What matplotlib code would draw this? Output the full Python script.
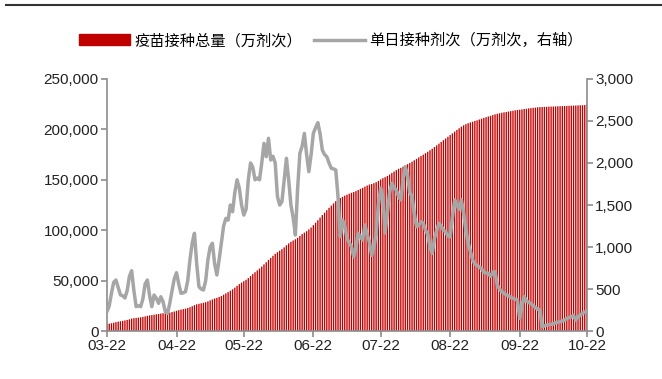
import numpy as np
import pandas as pd
import matplotlib
matplotlib.use('Agg')
import matplotlib.pyplot as plt
import matplotlib.dates as mdates
from matplotlib.lines import Line2D
from matplotlib.ticker import FuncFormatter

plt.rcParams['font.family'] = ['Liberation Sans', 'DejaVu Sans']

# daily dates, 2021-03-22 .. 2021-10-22
dates = pd.date_range('2021-03-22', '2021-10-22', freq='D')

# cumulative doses (万剂次), left axis
total_doses = [
    7000, 7300, 7700, 8200, 8800, 9300, 9700, 10100, 10500, 11000,
    11600, 12300, 12700, 13000, 13300, 13600, 14000, 14500, 15100, 15500,
    15800, 16200, 16600, 16900, 17300, 17600, 17800, 18000, 18300, 18800,
    19400, 20100, 20700, 21200, 21700, 22200, 22800, 23600, 24600, 25700,
    26500, 27000, 27500, 28000, 28600, 29400, 30400, 31400, 32200, 32900,
    33700, 34700, 36000, 37300, 38600, 40000, 41400, 43000, 44800, 46500,
    48000, 49400, 50800, 52500, 54500, 56500, 58300, 60100, 61900, 63900,
    66100, 68200, 70500, 72500, 74600, 76600, 78200, 79700, 81200, 83000,
    85100, 86900, 88400, 89800, 91000, 92500, 94300, 96100, 97600, 99000,
    100800, 102700, 105000, 107400, 109900, 112500, 115000, 117400, 119800, 122200,
    124400, 126600, 128800, 130700, 131900, 133100, 134200, 135200, 136200, 137100,
    137900, 138800, 139900, 141000, 142000, 143200, 144300, 145300, 145800, 146600,
    147600, 148900, 150300, 151600, 152600, 153800, 155200, 156700, 158200, 159600,
    160900, 161800, 163000, 164300, 165500, 166600, 168000, 169400, 170800, 172200,
    173600, 175000, 176400, 177800, 179300, 180900, 182500, 184200, 185900, 187600,
    189300, 191000, 192700, 194400, 196100, 197800, 199500, 201100, 202700, 204100,
    205200, 206100, 206900, 207600, 208300, 209000, 209800, 210600, 211400, 212100,
    212800, 213500, 214200, 214900, 215500, 216000, 216500, 216900, 217300, 217700,
    218100, 218500, 218900, 219300, 219500, 219800, 220200, 220500, 220800, 221100,
    221400, 221600, 221900, 222100, 222200, 222300, 222400, 222500, 222600, 222700,
    222800, 222900, 223000, 223100, 223200, 223300, 223400, 223500, 223600, 223700,
    223800, 223900, 224000, 224100, 224300,
]

# daily doses (万剂次), right axis
daily_doses = [
    230, 300, 450, 580, 607, 520, 430, 420, 393, 480,
    650, 718, 480, 290, 300, 290, 380, 560, 607, 420,
    290, 428, 390, 330, 408, 350, 230, 210, 330, 480,
    620, 694, 560, 449, 455, 468, 600, 850, 1050, 1163,
    800, 527, 500, 488, 600, 850, 1000, 1044, 800, 667,
    850, 1050, 1250, 1341, 1320, 1500, 1420, 1650, 1800, 1700,
    1500, 1380, 1450, 1800, 2000, 1950, 1800, 1820, 1800, 2000,
    2234, 2075, 2294, 2036, 2080, 2000, 1600, 1500, 1540, 1800,
    2056, 1800, 1500, 1350, 1143, 1700, 2115, 2200, 2353, 2100,
    1897, 2100, 2353, 2420, 2480, 2350, 2155, 2100, 2075, 2000,
    1937, 1930, 1917, 1600, 1123, 1321, 1250, 1103, 1050, 1004,
    885, 1000, 1163, 1120, 1083, 1262, 1150, 1063, 900, 1000,
    1163, 1500, 1700, 1600, 1167, 1400, 1650, 1758, 1700, 1680,
    1600, 1560, 1800, 1956, 1850, 1650, 1599, 1400, 1242, 1260,
    1300, 1286, 1200, 1150, 1000, 925, 1100, 1200, 1282, 1250,
    1200, 1180, 1130, 1123, 1350, 1560, 1500, 1450, 1560, 1400,
    1202, 1050, 950, 845, 800, 780, 765, 740, 700, 690,
    687, 650, 700, 706, 548, 500, 470, 449, 430, 420,
    400, 390, 380, 369, 151, 300, 408, 360, 340, 330,
    300, 280, 260, 250, 51, 60, 70, 75, 80, 85,
    100, 105, 110, 120, 130, 150, 160, 170, 185, 130,
    170, 190, 210, 225, 240,
]

tick_dates = pd.to_datetime(['2021-03-22', '2021-04-22', '2021-05-22', '2021-06-22',
                             '2021-07-22', '2021-08-22', '2021-09-22', '2021-10-22'])

assert len(total_doses) == len(dates) and len(daily_doses) == len(dates)

bar_color = '#C00000'
line_color = '#A6A6A6'
axis_color = '#8C8C8C'
cjk = ['Noto Sans CJK SC', 'DejaVu Sans']

fig = plt.figure(figsize=(6.62, 3.79), dpi=100)
ax = fig.add_axes([0.1616, 0.1266, 0.7251, 0.665])
ax2 = ax.twinx()

# thin daily bars, left unsnapped so the stripes stay even
bars = ax.bar(dates, total_doses, width=0.6, color=bar_color, edgecolor='none',
              zorder=1)
for b in bars:
    b.set_snap(False)
ax2.plot(dates, daily_doses, color=line_color, lw=2.5, solid_joinstyle='round',
         solid_capstyle='round', zorder=3)

ax.set_ylim(0, 250000)
ax2.set_ylim(0, 3000)
ax.set_yticks(np.arange(0, 250001, 50000))
ax2.set_yticks(np.arange(0, 3001, 500))
comma = FuncFormatter(lambda v, p: f'{v:,.0f}')
ax.yaxis.set_major_formatter(comma)
ax2.yaxis.set_major_formatter(comma)

ax.set_xlim(dates[0], dates[-1])
ax.set_xticks(tick_dates)
ax.xaxis.set_major_formatter(mdates.DateFormatter('%m-%d'))

for a in (ax, ax2):
    a.spines['top'].set_visible(False)
    for s in ('left', 'right', 'bottom'):
        a.spines[s].set_color(axis_color)
        a.spines[s].set_linewidth(1.2)
    a.tick_params(direction='out', length=4, width=1.2, color=axis_color,
                  labelsize=11, labelcolor='#222222', pad=2)
ax.spines['right'].set_visible(False)
ax2.spines['left'].set_visible(False)
ax2.spines['bottom'].set_visible(False)

# legend across the top
handles = [
    plt.Rectangle((0, 0), 1, 1, color=bar_color),
    Line2D([0], [0], color=line_color, lw=2.5),
]
labels = ['疫苗接种总量（万剂次）', '单日接种剂次（万剂次，右轴）']
fig.legend(handles, labels, loc='center', bbox_to_anchor=(0.5, 0.893), ncol=2,
           frameon=False, prop={'family': cjk, 'size': 11},
           handlelength=3.3, handleheight=0.7, handletextpad=0.3,
           columnspacing=0.8)

# rule along the top edge
fig.add_artist(Line2D([6 / 662, 1.0], [1 - 5 / 379, 1 - 5 / 379],
                      color='#333333', lw=1.5, transform=fig.transFigure))

fig.savefig('out.png', dpi=100)
plt.close(fig)
